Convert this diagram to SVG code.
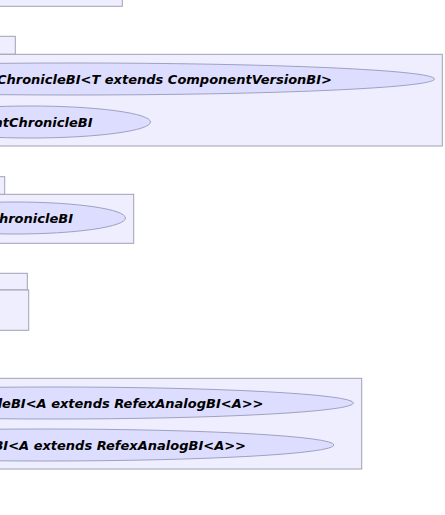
<svg xmlns="http://www.w3.org/2000/svg" width="445" height="515" viewBox="0 0 445 515">
<style>
.pkg{fill:#EEEEFF;stroke:#A0A0B4;stroke-width:1}
.uc{fill:#DDDDFF;stroke:#A0A0C0;stroke-width:1}
.lbl{font-family:"DejaVu Sans",sans-serif;font-size:13px;font-weight:bold;font-style:italic;fill:#000000;text-anchor:end}
</style>
<rect width="445" height="515" fill="#FFFFFF"/>
<g id="pkg1">
<rect class="pkg" x="-10" y="-40" width="132.3" height="46.3"/>
</g>
<g id="pkg2">
<rect class="pkg" x="-10" y="36.3" width="25.3" height="18"/>
<rect class="pkg" x="-10" y="54.3" width="452.3" height="91.7"/>
<g id="uc1">
<ellipse class="uc" cx="74" cy="79" rx="360.5" ry="16"/>
<text class="lbl" x="332" y="84">ChronicleBI&lt;T extends ComponentVersionBI&gt;</text>
</g>
<g id="uc2">
<ellipse class="uc" cx="30" cy="122" rx="120.5" ry="16"/>
<text class="lbl" x="92.5" y="126.5">ntChronicleBI</text>
</g>
</g>
<g id="pkg3">
<rect class="pkg" x="-10" y="176.7" width="14.7" height="17.8"/>
<rect class="pkg" x="-10" y="194.3" width="143.7" height="49"/>
<g id="uc3">
<ellipse class="uc" cx="15" cy="218" rx="110.5" ry="16"/>
<text class="lbl" x="73" y="223">hronicleBI</text>
</g>
</g>
<g id="pkg4">
<rect class="pkg" x="-10" y="273.3" width="37.3" height="16.7"/>
<rect class="pkg" x="-10" y="290" width="38.7" height="40.3"/>
</g>
<g id="pkg5">
<rect class="pkg" x="-10" y="378.3" width="371.7" height="90.7"/>
<g id="uc4">
<ellipse class="uc" cx="53" cy="403" rx="300.5" ry="16"/>
<text class="lbl" x="263.5" y="408">leBI&lt;A extends RefexAnalogBI&lt;A&gt;&gt;</text>
</g>
<g id="uc5">
<ellipse class="uc" cx="44" cy="445" rx="290" ry="16"/>
<text class="lbl" x="246" y="450">BI&lt;A extends RefexAnalogBI&lt;A&gt;&gt;</text>
</g>
</g>
<g id="connectors"/>
</svg>
